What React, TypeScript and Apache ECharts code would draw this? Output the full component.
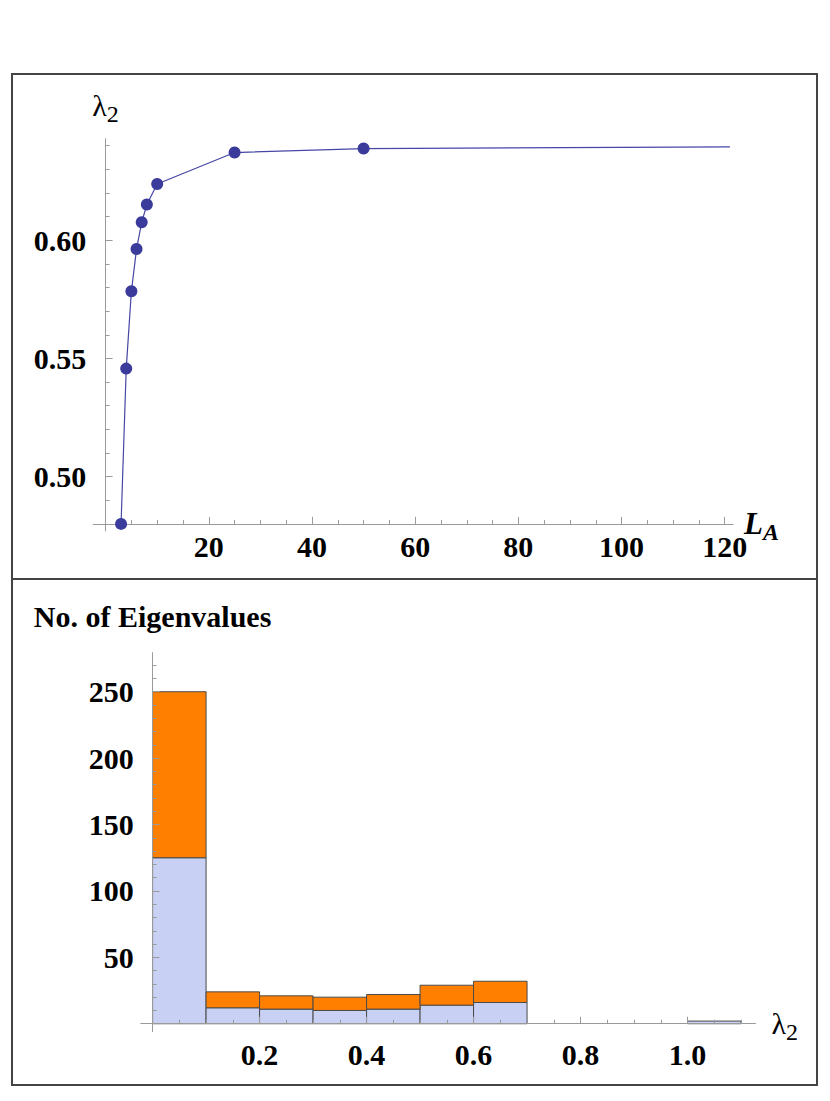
import React, { useEffect, useRef } from 'react';
import * as echarts from 'echarts';

// ---------- Top panel data ----------
const LA = [3, 4, 5, 6, 7, 8, 10, 25, 50, 121];
const lambda2 = [0.48, 0.5457, 0.5784, 0.5963, 0.6076, 0.6151, 0.6238, 0.6371, 0.6388, 0.6395];
const markerShown = [true, true, true, true, true, true, true, true, true, false];

const topXMajor = [20, 40, 60, 80, 100, 120];
const topXMinor = [5, 10, 15, 25, 30, 35, 45, 50, 55, 65, 70, 75, 85, 90, 95, 105, 110, 115];
const topYMajor = [0.5, 0.55, 0.6];
const topYMinor = [0.49, 0.51, 0.52, 0.53, 0.54, 0.56, 0.57, 0.58, 0.59, 0.61, 0.62, 0.63, 0.64];

// ---------- Bottom panel data ----------
const binStart = [0, 0.1, 0.2, 0.3, 0.4, 0.5, 0.6, 1.0];
const binEnd = [0.1, 0.2, 0.3, 0.4, 0.5, 0.6, 0.7, 1.1];
const blueCounts = [125, 12, 11, 10, 11, 14, 16, 2];
const orangeCounts = [125, 12, 10, 10, 11, 15, 16, 0];

const botXMajor = [0.2, 0.4, 0.6, 0.8, 1.0];
const botXMinor = [0.05, 0.1, 0.15, 0.25, 0.3, 0.35, 0.45, 0.5, 0.55, 0.65, 0.7, 0.75, 0.85, 0.9, 0.95, 1.05, 1.1];
const botYMajor = [50, 100, 150, 200, 250];
const botYMinor = [10, 20, 30, 40, 60, 70, 80, 90, 110, 120, 130, 140, 160, 170, 180, 190, 210, 220, 230, 240, 260, 270];

const FONT = 'Liberation Serif';
const AXIS_GRAY = '#9a9a9a';
const BLUE_FILL = '#c8d0f4';
const ORANGE_FILL = '#ff8000';
const EDGE = '#4a4a4a';
const LINE_COLOR = '#4646a6';
const POINT_COLOR = '#3b3b9b';

const labelStyle = { fontFamily: FONT, fontWeight: 'bold' as const, fontSize: 30, color: '#000' };

function mainAxis(opts: any) {
  return {
    type: 'value',
    nameMoveOverlap: false,
    splitLine: { show: false },
    axisLine: { show: true, lineStyle: { color: AXIS_GRAY, width: 1 } },
    axisTick: { show: true, inside: true, length: 7, lineStyle: { color: AXIS_GRAY, width: 1 }, customValues: opts.major },
    axisLabel: { show: true, customValues: opts.major, margin: opts.margin, formatter: opts.formatter, ...labelStyle },
    ...opts.extra,
  };
}

function minorAxis(opts: any) {
  return {
    type: 'value',
    nameMoveOverlap: false,
    splitLine: { show: false },
    axisLine: { show: true, lineStyle: { color: 'rgba(0,0,0,0)', width: 1 } },
    axisTick: { show: true, inside: true, length: 4, lineStyle: { color: AXIS_GRAY, width: 1 }, customValues: opts.minor },
    axisLabel: { show: false },
    ...opts.extra,
  };
}

function rectItem(color: string) {
  return (params: any, api: any) => {
    const x0 = api.value(0);
    const x1 = api.value(1);
    const y0 = api.value(2);
    const y1 = api.value(3);
    const p0 = api.coord([x0, y0]);
    const p1 = api.coord([x1, y1]);
    return {
      type: 'rect',
      shape: { x: p0[0], y: p1[1], width: p1[0] - p0[0], height: p0[1] - p1[1] },
      style: { fill: color, stroke: EDGE, lineWidth: 1 },
    };
  };
}

export default function App() {
  const ref = useRef<HTMLDivElement>(null);

  useEffect(() => {
    if (!ref.current) return;
    const chart = echarts.init(ref.current, undefined, { renderer: 'svg' });

    const topGrid = { left: 93.2, top: 138.6, width: 639.8, height: 392.4, outerBoundsMode: 'none' };
    const botGrid = { left: 140.8, top: 652.7, width: 614.7, height: 379.0, outerBoundsMode: 'none' };
    const topX = { min: -2.4, max: 121.6 };
    const topY = { min: 0.477, max: 0.643 };
    const botX = { min: -0.022, max: 1.127 };
    const botY = { min: -6, max: 279.4 };

    const lineData = LA.map((x, i) => ({
      value: [x, lambda2[i]],
      symbol: markerShown[i] ? 'circle' : 'none',
    }));

    const blueData = binStart.map((s, i) => [s, binEnd[i], 0, blueCounts[i]]);
    const orangeData = binStart
      .map((s, i) => [s, binEnd[i], blueCounts[i], blueCounts[i] + orangeCounts[i]])
      .filter((d, i) => orangeCounts[i] > 0);

    const lambdaRich = {
      l: { fontFamily: FONT, fontSize: 30, color: '#000', lineHeight: 40 },
      s: { fontFamily: FONT, fontSize: 24, color: '#000', verticalAlign: 'bottom' },
    };
    const laRich = {
      l: { fontFamily: FONT, fontSize: 31, fontStyle: 'italic', fontWeight: 'bold', color: '#000', lineHeight: 40 },
      s: { fontFamily: FONT, fontSize: 24, fontStyle: 'italic', fontWeight: 'bold', color: '#000', verticalAlign: 'bottom' },
    };

    const option: any = {
      animation: false,
      backgroundColor: '#fff',
      grid: [topGrid, { ...topGrid }, botGrid, { ...botGrid }],
      xAxis: [
        mainAxis({
          major: topXMajor,
          margin: 8,
          formatter: (v: number) => String(v),
          extra: {
            gridIndex: 0, ...topX, offset: -7.1, z: 5,
            name: '{l|L}{s|A}', nameLocation: 'end', nameGap: 11,
            nameTextStyle: { rich: laRich },
          },
        }),
        minorAxis({ minor: topXMinor, extra: { gridIndex: 1, ...topX, offset: -7.1, z: 5 } }),
        mainAxis({
          major: botXMajor,
          margin: 8,
          formatter: (v: number) => v.toFixed(1),
          extra: {
            gridIndex: 2, ...botX, z: 5,
            name: '{l|λ}{s|2}', nameLocation: 'end', nameGap: 16,
            nameTextStyle: { rich: lambdaRich },
          },
        }),
        minorAxis({ minor: botXMinor, extra: { gridIndex: 3, ...botX, z: 5 } }),
      ],
      yAxis: [
        mainAxis({
          major: topYMajor,
          margin: 7,
          formatter: (v: number) => v.toFixed(2),
          extra: {
            gridIndex: 0, ...topY, z: 5,
            name: '{l|λ}{s|2}', nameLocation: 'end', nameGap: 13,
            nameTextStyle: { rich: lambdaRich },
          },
        }),
        minorAxis({ minor: topYMinor, extra: { gridIndex: 1, ...topY, z: 5 } }),
        mainAxis({
          major: botYMajor,
          margin: 7,
          formatter: (v: number) => String(v),
          extra: {
            gridIndex: 2, ...botY, z: 5,
            name: 'No. of Eigenvalues', nameLocation: 'end', nameGap: 19,
            nameTextStyle: { fontFamily: FONT, fontWeight: 'bold', fontSize: 30, color: '#000', lineHeight: 34 },
          },
        }),
        minorAxis({ minor: botYMinor, extra: { gridIndex: 3, ...botY, z: 5 } }),
      ],
      series: [
        {
          type: 'line',
          xAxisIndex: 0,
          yAxisIndex: 0,
          data: lineData,
          symbolSize: 12,
          lineStyle: { color: LINE_COLOR, width: 1.2 },
          itemStyle: { color: POINT_COLOR },
          z: 10,
        },
        {
          type: 'custom',
          xAxisIndex: 2,
          yAxisIndex: 2,
          data: blueData,
          encode: { x: [0, 1], y: [2, 3] },
          renderItem: rectItem(BLUE_FILL),
          z: 2,
        },
        {
          type: 'custom',
          xAxisIndex: 2,
          yAxisIndex: 2,
          data: orangeData,
          encode: { x: [0, 1], y: [2, 3] },
          renderItem: rectItem(ORANGE_FILL),
          z: 2,
        },
      ],
      graphic: [
        {
          type: 'rect',
          shape: { x: 12, y: 74, width: 805, height: 1011 },
          style: { fill: 'none', stroke: '#444', lineWidth: 2 },
          silent: true,
        },
        {
          type: 'line',
          shape: { x1: 12, y1: 579, x2: 817, y2: 579 },
          style: { stroke: '#444', lineWidth: 2 },
          silent: true,
        },
      ],
    };

    chart.setOption(option);
    return () => chart.dispose();
  }, []);

  return (
    <div
      ref={ref}
      style={{ position: 'absolute', left: 0, top: 0, width: 830, height: 1101, background: '#fff' }}
    />
  );
}
